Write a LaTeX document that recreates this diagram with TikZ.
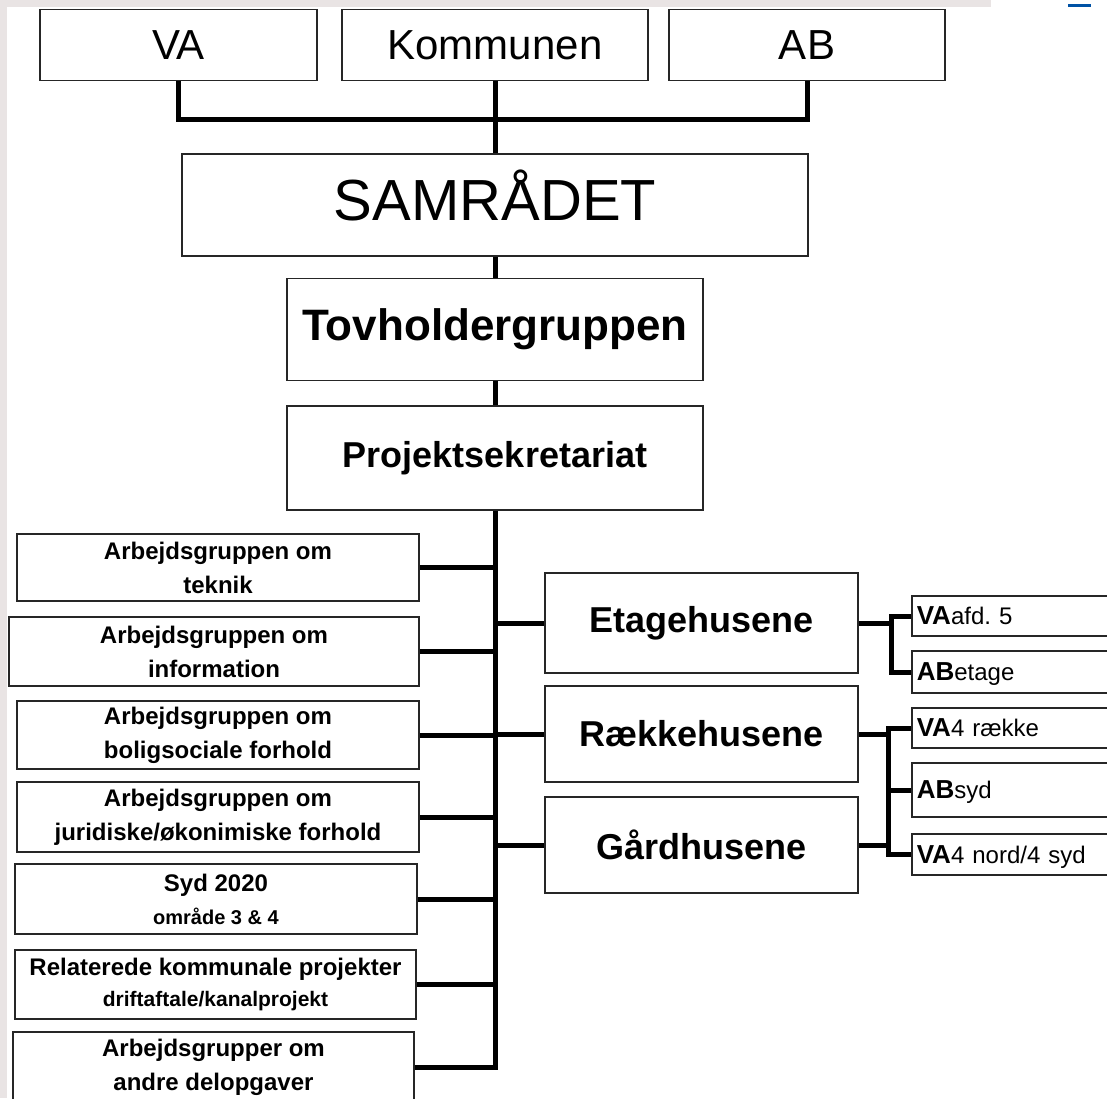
\documentclass[tikz,border=0pt]{standalone}
\usepackage{fontspec}
\setmainfont{Liberation Sans}
\frenchspacing
\definecolor{stripgray}{RGB}{233,228,228}
\definecolor{markblue}{RGB}{0,82,165}
\tikzset{
	box/.style={draw=black!85, line width=1.6pt, fill=white, inner sep=0pt, align=center},
	conn/.style={line width=5pt},
	grp/.style={box, font=\fontsize{24}{34}\selectfont\bfseries},
	unit/.style={box, anchor=west, text width=220pt, inner xsep=5pt, align=left, text depth=0pt, font=\fontsize{24}{28}\selectfont}
}
\newcommand{\unitname}[1]{{\fontsize{26}{28}\selectfont\bfseries #1}}

\begin{document}
\begin{tikzpicture}[x=1pt, y=-1pt]
				\useasboundingbox (0, 0) rectangle (1107, 1098);
				\fill[stripgray] (0, 0) rectangle (991, 7);
				\fill[stripgray] (0, 0) rectangle (7, 1098);
				\fill[markblue] (1068, 4) rectangle (1091, 7);

				\node[box, minimum width=277pt, minimum height=71pt, font=\fontsize{42}{48}\selectfont] (VA)at(178.5, 45) {VA};
				\node[box, minimum width=306pt, minimum height=71pt, font=\fontsize{42}{48}\selectfont] (Kommunen)at(495, 45) {Kommunen};
				\node[box, minimum width=276pt, minimum height=71pt, font=\fontsize{42}{48}\selectfont] (AB)at(807, 45) {AB};
				\node[box, minimum width=626pt, minimum height=102pt, font=\fontsize{58}{66}\selectfont, text height=42pt, text depth=12pt] (Samraadet)at(495, 205) {SAMRÅDET};
				\node[box, minimum width=416pt, minimum height=102pt, font=\fontsize{44}{50}\selectfont\bfseries] (Tovholder)at(495, 329.5) {Tovholdergruppen};
				\node[box, minimum width=416pt, minimum height=104pt, font=\fontsize{36}{42}\selectfont\bfseries] (Sekretariat)at(495, 458) {Projektsekretariat};

				\node[grp, minimum width=402pt, minimum height=67pt] (Teknik)at(218, 567.5) {Arbejdsgruppen om\\teknik};
				\node[grp, minimum width=410pt, minimum height=69pt] (Information)at(214, 651.5) {Arbejdsgruppen om\\information};
				\node[grp, minimum width=402pt, minimum height=68pt] (Boligsocial)at(218, 735) {Arbejdsgruppen om\\boligsociale forhold};
				\node[grp, minimum width=402pt, minimum height=70pt] (Juridisk)at(218, 817) {Arbejdsgruppen om\\juridiske/økonimiske forhold};
				\node[grp, minimum width=402pt, minimum height=70pt] (Syd)at(216, 899) {Syd 2020\\[-1pt]{\fontsize{20}{24}\selectfont område 3 \& 4}};
				\node[grp, minimum width=401pt, minimum height=69pt] (Relateret)at(215.5, 984.5) {Relaterede kommunale projekter\\[-3pt]{\fontsize{21}{24}\selectfont driftaftale/kanalprojekt}};
				\node[grp, minimum width=401pt, minimum height=70pt] (Delopgaver)at(213.5, 1067) {Arbejdsgrupper om\\andre delopgaver};

				\node[box, minimum width=313pt, minimum height=100pt, font=\fontsize{36}{42}\selectfont\bfseries] (Etage)at(701.5, 623) {Etagehusene};
				\node[box, minimum width=313pt, minimum height=96pt, font=\fontsize{36}{42}\selectfont\bfseries] (Raekke)at(701.5, 734) {Rækkehusene};
				\node[box, minimum width=313pt, minimum height=96pt, font=\fontsize{36}{42}\selectfont\bfseries] (Gaard)at(701.5, 845) {Gårdhusene};

				\node[unit, minimum height=40pt] (VAafd)at(911, 616) {\unitname{VA}afd. 5};
				\node[unit, minimum height=42pt] (ABetage)at(911, 672) {\unitname{AB}etage};
				\node[unit, minimum height=40pt] (VArække)at(911, 728) {\unitname{VA}4 række};
				\node[unit, minimum height=54pt] (ABsyd)at(911, 790) {\unitname{AB}syd};
				\node[unit, minimum height=41pt] (VAnord)at(911, 854.5) {\unitname{VA}4 nord/4 syd};

				\coordinate (bar) at (495, 119);
				\coordinate (bracketA) at (891, 0);
				\coordinate (bracketB) at (888, 0);

				\draw[conn] (VA.south) |- (bar) -| (AB.south);
				\draw[conn] (Kommunen.south) -- (Samraadet.north);
				\draw[conn] (Samraadet.south) -- (Tovholder.north);
				\draw[conn] (Tovholder.south) -- (Sekretariat.north);
				\draw[conn] (Sekretariat.south) |- (Delopgaver.east);
				\draw[conn] (Teknik.east) -- (Teknik.east -| Sekretariat.south);
				\draw[conn] (Information.east) -- (Information.east -| Sekretariat.south);
				\draw[conn] (Boligsocial.east) -- (Boligsocial.east -| Sekretariat.south);
				\draw[conn] (Juridisk.east) -- (Juridisk.east -| Sekretariat.south);
				\draw[conn] (Syd.east) -- (Syd.east -| Sekretariat.south);
				\draw[conn] (Relateret.east) -- (Relateret.east -| Sekretariat.south);
				\draw[conn] (Etage.west) -- (Etage.west -| Sekretariat.south);
				\draw[conn] (Raekke.west) -- (Raekke.west -| Sekretariat.south);
				\draw[conn] (Gaard.west) -- (Gaard.west -| Sekretariat.south);

				\draw[conn] (VAafd.west) -- (VAafd.west -| bracketA) |- (ABetage.west);
				\draw[conn] (Etage.east) -- (Etage.east -| bracketA);
				\draw[conn] (VArække.west) -- (VArække.west -| bracketB) |- (VAnord.west);
				\draw[conn] (ABsyd.west) -- (ABsyd.west -| bracketB);
				\draw[conn] (Raekke.east) -- (Raekke.east -| bracketB);
				\draw[conn] (Gaard.east) -- (Gaard.east -| bracketB);
			\end{tikzpicture}
\end{document}
